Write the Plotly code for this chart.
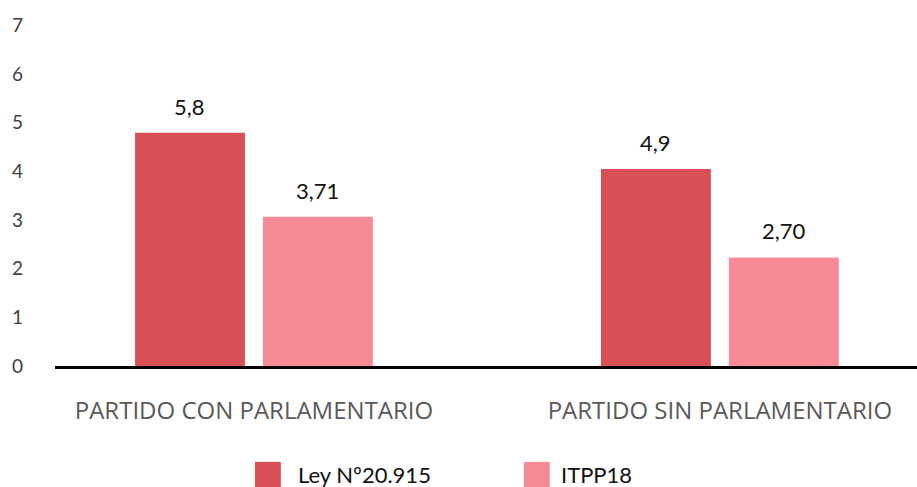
"""Partidos con / sin parlamentario — comparación Ley Nº20.915 vs ITPP18."""

import plotly.graph_objects as go

CATEGORIES = ["PARTIDO CON PARLAMENTARIO", "PARTIDO SIN PARLAMENTARIO"]
SERIES_NAMES = ["Ley Nº20.915", "ITPP18"]
LEY_VALUES = [5.8, 4.9]
ITPP_VALUES = [3.71, 2.70]
LEY_LABELS = ["5,8", "4,9"]
ITPP_LABELS = ["3,71", "2,70"]
Y_TICK_LABELS = ["0", "1", "2", "3", "4", "5", "6", "7"]

RED = "#DA4F55"
PINK = "#F78A96"
FONT = "Lato, 'Open Sans', sans-serif"
CAT_FONT = "'Open Sans', sans-serif"
AXIS_TEXT = "#404040"
CAT_TEXT = "#595959"
LABEL_TEXT = "#111111"

# the printed axis labels sit on a stretched scale (step ~1.21 data units)
TICK_STEP = 1.21
tickvals = [i * TICK_STEP for i in range(len(Y_TICK_LABELS))]

fig = go.Figure()
series = [
    (SERIES_NAMES[0], LEY_VALUES, LEY_LABELS, RED, -64),
    (SERIES_NAMES[1], ITPP_VALUES, ITPP_LABELS, PINK, 64),
]
for name, vals, labels, color, shift in series:
    fig.add_trace(
        go.Bar(
            name=name,
            x=CATEGORIES,
            y=vals,
            marker=dict(color=color, line=dict(width=0)),
            showlegend=False,
            hoverinfo="name+y",
        )
    )
    # value labels float a bit higher than plotly's outside text
    for cat, v, lab in zip(CATEGORIES, vals, labels):
        fig.add_annotation(
            x=cat,
            y=v,
            text=lab,
            xshift=shift,
            yshift=11,
            yanchor="bottom",
            showarrow=False,
            font=dict(size=22, color=LABEL_TEXT, family=FONT),
        )

# hand-drawn legend (plotly caps legend symbol size)
legend_items = [
    (SERIES_NAMES[0], RED, 0.232, 0.280),
    (SERIES_NAMES[1], PINK, 0.544, 0.585),
]
for name, color, x0, xt in legend_items:
    fig.add_shape(
        type="rect",
        xref="paper",
        yref="paper",
        x0=x0,
        x1=x0 + 0.030,
        y0=-0.331,
        y1=-0.262,
        fillcolor=color,
        line=dict(width=0),
    )
    fig.add_annotation(
        text=name,
        xref="paper",
        yref="paper",
        x=xt,
        y=-0.296,
        xanchor="left",
        yanchor="middle",
        showarrow=False,
        font=dict(size=22, color=LABEL_TEXT, family=FONT),
    )

fig.update_layout(
    width=917,
    height=487,
    paper_bgcolor="white",
    plot_bgcolor="white",
    font=dict(family=FONT, color=AXIS_TEXT),
    margin=dict(l=55, r=0, t=0, b=121, autoexpand=False),
    barmode="group",
    bargap=0.451,
    bargroupgap=0.141,
    xaxis=dict(
        range=[-0.427, 1.423],
        showgrid=False,
        zeroline=False,
        showline=True,
        linecolor="black",
        linewidth=2.5,
        ticks="",
        automargin=False,
        ticklabelstandoff=21,
        tickfont=dict(size=24, color=CAT_TEXT, family=CAT_FONT),
    ),
    yaxis=dict(
        range=[0, 9.1],
        showgrid=False,
        zeroline=False,
        showline=False,
        ticks="",
        automargin=False,
        tickvals=tickvals,
        ticktext=Y_TICK_LABELS,
        ticklabelstandoff=31,
        tickfont=dict(size=19, color=AXIS_TEXT),
    ),
    showlegend=False,
)

fig.write_html(
    "out.html",
    config={"displayModeBar": False},
    post_script="document.body.style.margin='0';",
)
